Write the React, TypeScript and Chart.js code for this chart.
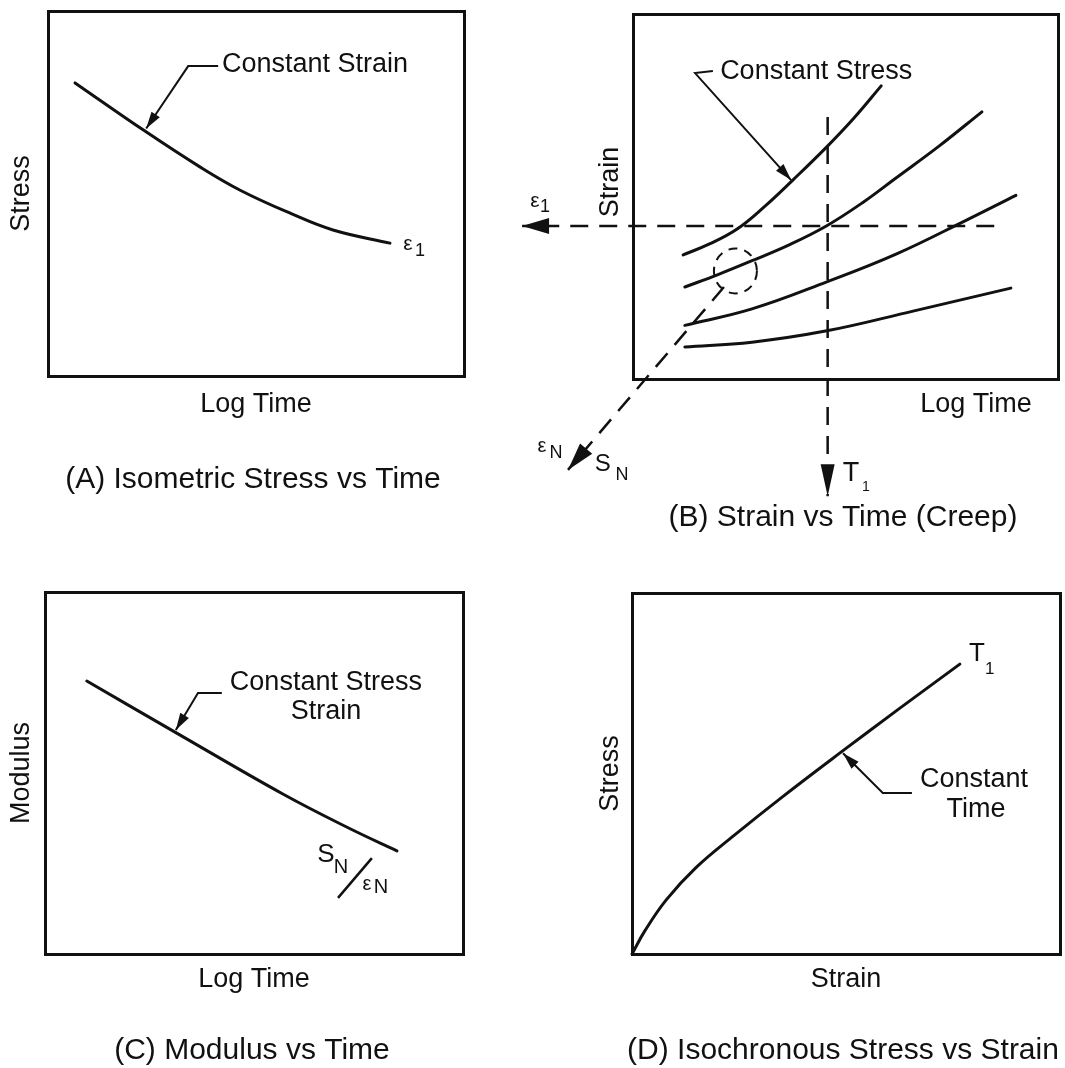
import React, { useEffect, useRef } from "react";
import { Chart, registerables } from "chart.js";

Chart.register(...registerables);

const FAMILY = "'Liberation Sans', Arial, Helvetica, sans-serif";
const INK = "#111111";

// ---------------- DATA (every plotting box spans 0–100 on both axes) ----------------

// (A) Isometric stress vs log time — one constant-strain curve
const A_LOG_TIME = [6.5, 23.3, 36.5, 46.2, 58.2, 68.5, 82.2];
const A_STRESS = [80.3, 67.1, 57.3, 50.9, 44.6, 40.0, 36.4];
const A_LEADER_TIME = [40.9, 33.7, 23.6];
const A_LEADER_STRESS = [84.9, 84.9, 67.8];

// (B) Strain vs log time (creep) — four constant-stress curves
const B_CURVE1_TIME = [11.8, 18.0, 24.5, 31.0, 37.6, 45.6, 52.0, 58.4];
const B_CURVE1_STRAIN = [34.0, 37.0, 41.1, 47.3, 54.5, 63.6, 71.5, 80.3];
const B_CURVE2_TIME = [12.2, 20.0, 28.0, 37.0, 45.6, 54.0, 61.8, 72.0, 82.1];
const B_CURVE2_STRAIN = [25.2, 28.6, 32.4, 36.9, 42.0, 48.3, 55.0, 63.8, 73.2];
const B_CURVE3_TIME = [12.2, 28.0, 45.6, 61.9, 78.6, 90.1];
const B_CURVE3_STRAIN = [14.7, 19.2, 26.6, 34.2, 43.6, 50.3];
const B_CURVE4_TIME = [12.2, 28.0, 45.6, 65.9, 88.9];
const B_CURVE4_STRAIN = [8.8, 10.1, 13.2, 18.6, 24.9];
const B_EPS1_LINE_TIME = [85.0, -26.1];
const B_EPS1_LINE_STRAIN = [41.9, 41.9];
const B_T1_LINE_TIME = [45.8, 45.8];
const B_T1_LINE_STRAIN = [71.8, -32.1];
const B_DIAG_TIME = [21.4, -15.3];
const B_DIAG_STRAIN = [25.2, -24.9];
const B_CIRCLE_CENTER = [24.1, 29.6];
const B_CIRCLE_RADII = [5.06, 6.16];
const B_LEADER_TIME = [18.8, 14.6, 37.2];
const B_LEADER_STRAIN = [84.4, 83.8, 54.5];

// (C) Modulus vs log time
const C_LOG_TIME = [10.0, 31.1, 56.9, 73.0, 84.2];
const C_MODULUS = [75.4, 61.3, 44.2, 34.6, 28.5];
const C_LEADER_TIME = [42.3, 36.6, 31.3];
const C_LEADER_MODULUS = [72.1, 72.1, 61.9];
const C_SLASH_TIME = [70.1, 78.2];
const C_SLASH_MODULUS = [15.5, 26.5];

// (D) Isochronous stress vs strain
const D_STRAIN = [0, 3, 8, 15, 24, 35, 48.6, 62.6, 76.6];
const D_STRESS = [0, 6.4, 15.0, 24.0, 33.0, 43.4, 55.7, 68.1, 80.3];
const D_LEADER_STRAIN = [65.4, 58.6, 49.3];
const D_LEADER_STRESS = [44.6, 44.6, 55.6];

// ---------------- STYLE / LAYOUT ----------------
const AX_SIZE = 27;
const AX_LH = 1.2;
const T_SIZE = 30;
const T_LH = 1.2;

type Label = { text: string; x: number; y: number; size: number; align?: CanvasTextAlign; rot?: number };
type PanelSpec = {
  key: string;
  canvas: { left: number; top: number; width: number; height: number };
  box: { left: number; top: number; right: number; bottom: number };
  xTitle?: string;
  xTitleY?: number;
  yTitle?: string;
  yTitleX: number;
  title: string;
  titleX: number;
  titleY: number;
  build: () => any[];
  labels: Label[];
  ellipses?: { c: number[]; r: number[] }[];
};

const pts = (xs: number[], ys: number[]) => xs.map((x, i) => ({ x, y: ys[i] }));

const curve = (xs: number[], ys: number[]) => ({
  data: pts(xs, ys),
  showLine: true,
  pointRadius: 0,
  borderColor: INK,
  borderWidth: 3,
  tension: 0.4,
  borderCapStyle: "round",
  fill: false,
  clip: false,
});

const straight = (xs: number[], ys: number[], width: number, extra: any = {}) => ({
  data: pts(xs, ys),
  showLine: true,
  pointRadius: 0,
  borderColor: INK,
  borderWidth: width,
  tension: 0,
  fill: false,
  clip: false,
  ...extra,
});

const leader = (xs: number[], ys: number[]) => straight(xs, ys, 2, { arrowHead: [17, 5] });
const dashedArrow = (xs: number[], ys: number[], head: number[]) =>
  straight(xs, ys, 2.5, { borderDash: [18, 11], arrowHead: head });

const PANELS: PanelSpec[] = [
  {
    key: "A",
    canvas: { left: 0, top: 0, width: 520, height: 545 },
    box: { left: 48, top: 11, right: 464, bottom: 376 },
    xTitle: "Log Time",
    xTitleY: 405,
    yTitle: "Stress",
    yTitleX: 22,
    title: "(A) Isometric Stress vs Time",
    titleX: 253,
    titleY: 480,
    build: () => [curve(A_LOG_TIME, A_STRESS), leader(A_LEADER_TIME, A_LEADER_STRESS)],
    labels: [
      { text: "Constant Strain", x: 41.8, y: 85.2, size: 27, align: "left" },
      { text: "ε", x: 86.5, y: 36.2, size: 21 },
      { text: "1", x: 89.4, y: 34.2, size: 18 },
    ],
  },
  {
    key: "B",
    canvas: { left: 500, top: 0, width: 700, height: 545 },
    box: { left: 633, top: 14, right: 1058, bottom: 379 },
    yTitleX: 611,
    title: "(B) Strain vs Time (Creep)",
    titleX: 843,
    titleY: 518,
    build: () => [
      curve(B_CURVE1_TIME, B_CURVE1_STRAIN),
      curve(B_CURVE2_TIME, B_CURVE2_STRAIN),
      curve(B_CURVE3_TIME, B_CURVE3_STRAIN),
      curve(B_CURVE4_TIME, B_CURVE4_STRAIN),
      dashedArrow(B_EPS1_LINE_TIME, B_EPS1_LINE_STRAIN, [27, 8]),
      dashedArrow(B_T1_LINE_TIME, B_T1_LINE_STRAIN, [32, 7]),
      dashedArrow(B_DIAG_TIME, B_DIAG_STRAIN, [28, 8]),
      leader(B_LEADER_TIME, B_LEADER_STRAIN),
    ],
    labels: [
      { text: "Strain", x: -5.2, y: 54.0, size: 27, rot: -90 },
      { text: "Constant Stress", x: 20.5, y: 84.1, size: 27, align: "left" },
      { text: "Log Time", x: 80.7, y: -7.1, size: 27 },
      { text: "ε", x: -23.1, y: 48.8, size: 21 },
      { text: "1", x: -20.7, y: 47.1, size: 18 },
      { text: "ε", x: -21.4, y: -18.6, size: 20 },
      { text: "N", x: -18.1, y: -20.3, size: 18 },
      { text: "S", x: -7.1, y: -23.3, size: 24 },
      { text: "N", x: -2.6, y: -26.3, size: 18 },
      { text: "T", x: 51.3, y: -25.8, size: 27 },
      { text: "1", x: 54.8, y: -29.6, size: 14 },
    ],
    ellipses: [{ c: B_CIRCLE_CENTER, r: B_CIRCLE_RADII }],
  },
  {
    key: "C",
    canvas: { left: 0, top: 545, width: 520, height: 540 },
    box: { left: 45, top: 592, right: 463, bottom: 954 },
    xTitle: "Log Time",
    xTitleY: 980,
    yTitle: "Modulus",
    yTitleX: 22,
    title: "(C) Modulus vs Time",
    titleX: 252,
    titleY: 1051,
    build: () => [
      curve(C_LOG_TIME, C_MODULUS),
      leader(C_LEADER_TIME, C_LEADER_MODULUS),
      straight(C_SLASH_TIME, C_SLASH_MODULUS, 2.5),
    ],
    labels: [
      { text: "Constant Stress", x: 67.2, y: 75.1, size: 27 },
      { text: "Strain", x: 67.2, y: 66.9, size: 27 },
      { text: "S", x: 67.2, y: 27.3, size: 26 },
      { text: "N", x: 70.8, y: 24.0, size: 20 },
      { text: "ε", x: 77.0, y: 19.3, size: 20 },
      { text: "N", x: 80.4, y: 18.5, size: 20 },
    ],
  },
  {
    key: "D",
    canvas: { left: 500, top: 545, width: 700, height: 540 },
    box: { left: 632, top: 593, right: 1060, bottom: 954 },
    xTitle: "Strain",
    xTitleY: 980,
    yTitle: "Stress",
    yTitleX: 611,
    title: "(D) Isochronous Stress vs Strain",
    titleX: 843,
    titleY: 1051,
    build: () => [curve(D_STRAIN, D_STRESS), leader(D_LEADER_STRAIN, D_LEADER_STRESS)],
    labels: [
      { text: "T", x: 80.6, y: 83.1, size: 26 },
      { text: "1", x: 83.6, y: 78.9, size: 17 },
      { text: "Constant", x: 79.9, y: 48.2, size: 27 },
      { text: "Time", x: 80.4, y: 39.9, size: 27 },
    ],
  },
];

function computeLayout(s: PanelSpec) {
  const { canvas: c, box: b } = s;
  const axLH = AX_SIZE * AX_LH;
  const tLH = T_SIZE * T_LH;
  const tx = s.titleX - c.left;
  const padL = 0;
  const padR = Math.max(0, c.width - 2 * tx);
  const yAxisW = b.left - c.left - padL;
  const rightW = c.width - padR - (b.right - c.left);
  const topH = b.top - c.top;
  const xAxisH = s.xTitleY != null ? s.xTitleY - b.bottom + axLH / 2 : 0;
  const titlePadTop = s.titleY - b.bottom - xAxisH - tLH / 2;
  const padB = Math.max(0, c.height - (b.bottom - c.top) - xAxisH - titlePadTop - tLH);
  const yTitlePad = s.yTitleX - c.left - padL - axLH / 2;
  return { padL, padR, yAxisW, rightW, topH, xAxisH, titlePadTop, padB, yTitlePad };
}

function edgeScale(position: string, forced: number, title?: any) {
  const horizontal = position === "top" || position === "bottom";
  return {
    type: "linear",
    position,
    min: 0,
    max: 100,
    ticks: { display: false },
    grid: { display: false, drawTicks: false, lineWidth: 3 },
    border: { display: true, width: 3, color: INK },
    title: title || { display: false },
    afterFit: (scale: any) => {
      if (horizontal) scale.height = forced;
      else scale.width = forced;
    },
  };
}

function PanelChart({ spec }: { spec: PanelSpec }) {
  const ref = useRef<HTMLCanvasElement | null>(null);

  useEffect(() => {
    const canvas = ref.current;
    if (!canvas) return;
    const L = computeLayout(spec);
    const axFont = { family: FAMILY, size: AX_SIZE, weight: "normal", lineHeight: AX_LH };

    const annot = {
      id: "annot" + spec.key,
      afterDatasetsDraw(chart: any) {
        const ctx = chart.ctx as CanvasRenderingContext2D;
        const xs = chart.scales.x;
        const ys = chart.scales.y;
        ctx.save();
        // arrow heads at the end of flagged datasets
        chart.data.datasets.forEach((ds: any, i: number) => {
          if (!ds.arrowHead) return;
          const meta = chart.getDatasetMeta(i);
          const n = meta.data.length;
          if (n < 2) return;
          const tip = meta.data[n - 1];
          const prev = meta.data[n - 2];
          const ang = Math.atan2(tip.y - prev.y, tip.x - prev.x);
          const [len, hw] = ds.arrowHead;
          const bx = tip.x - len * Math.cos(ang);
          const by = tip.y - len * Math.sin(ang);
          const px = -Math.sin(ang) * hw;
          const py = Math.cos(ang) * hw;
          ctx.fillStyle = INK;
          ctx.beginPath();
          ctx.moveTo(tip.x, tip.y);
          ctx.lineTo(bx + px, by + py);
          ctx.lineTo(bx - px, by - py);
          ctx.closePath();
          ctx.fill();
        });
        // dashed ellipses
        (spec.ellipses || []).forEach((e) => {
          const cx = xs.getPixelForValue(e.c[0]);
          const cy = ys.getPixelForValue(e.c[1]);
          const rx = Math.abs(xs.getPixelForValue(e.c[0] + e.r[0]) - cx);
          const ry = Math.abs(ys.getPixelForValue(e.c[1] + e.r[1]) - cy);
          ctx.strokeStyle = INK;
          ctx.lineWidth = 2;
          ctx.setLineDash([9, 7]);
          ctx.beginPath();
          ctx.ellipse(cx, cy, rx, ry, 0, 0, Math.PI * 2);
          ctx.stroke();
          ctx.setLineDash([]);
        });
        // text labels
        ctx.fillStyle = INK;
        ctx.textBaseline = "middle";
        spec.labels.forEach((lb) => {
          ctx.save();
          ctx.font = `${lb.size}px ${FAMILY}`;
          ctx.textAlign = lb.align || "center";
          ctx.translate(xs.getPixelForValue(lb.x), ys.getPixelForValue(lb.y));
          if (lb.rot) ctx.rotate((lb.rot * Math.PI) / 180);
          ctx.fillText(lb.text, 0, 0);
          ctx.restore();
        });
        ctx.restore();
      },
    };

    const chart = new Chart(canvas, {
      type: "scatter",
      data: { datasets: spec.build() },
      options: {
        responsive: false,
        animation: false,
        events: [],
        layout: { padding: { left: L.padL, right: L.padR, top: 0, bottom: L.padB } },
        plugins: {
          legend: { display: false },
          tooltip: { enabled: false },
          title: {
            display: true,
            text: spec.title,
            position: "bottom",
            align: "center",
            color: INK,
            font: { family: FAMILY, size: T_SIZE, weight: "normal", lineHeight: T_LH },
            padding: { top: L.titlePadTop, bottom: 0 },
          },
        },
        scales: {
          x: edgeScale(
            "bottom",
            L.xAxisH,
            spec.xTitle
              ? { display: true, text: spec.xTitle, color: INK, font: axFont, padding: { top: 0, bottom: 0 } }
              : undefined
          ),
          y: edgeScale(
            "left",
            L.yAxisW,
            spec.yTitle
              ? { display: true, text: spec.yTitle, color: INK, font: axFont, padding: { top: L.yTitlePad, bottom: 0 } }
              : undefined
          ),
          x2: edgeScale("top", L.topH),
          y2: edgeScale("right", L.rightW),
        },
      } as any,
      plugins: [annot],
    });
    return () => chart.destroy();
  }, [spec]);

  const c = spec.canvas;
  return (
    <canvas
      ref={ref}
      width={c.width}
      height={c.height}
      style={{ position: "absolute", left: c.left, top: c.top, width: c.width, height: c.height }}
    />
  );
}

export default function App() {
  return (
    <div
      style={{
        position: "absolute",
        left: 0,
        top: 0,
        width: 1065,
        height: 1068,
        overflow: "hidden",
        background: "#ffffff",
      }}
    >
      {PANELS.map((p) => (
        <PanelChart key={p.key} spec={p} />
      ))}
    </div>
  );
}
